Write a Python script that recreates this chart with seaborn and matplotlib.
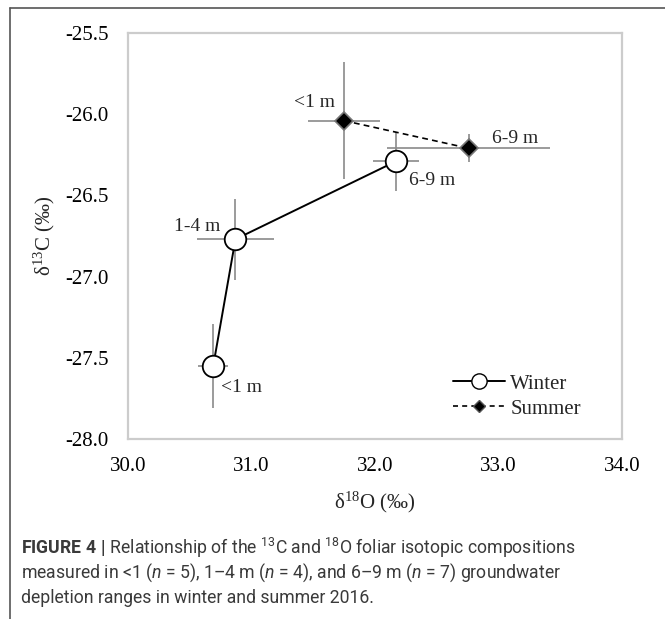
import numpy as np
import pandas as pd
import seaborn as sns
import matplotlib.pyplot as plt
from matplotlib.lines import Line2D

# values
winter_depth = ['<1 m', '1-4 m', '6-9 m']
winter_o18 = [30.69, 30.87, 32.17]
winter_c13 = [-27.55, -26.77, -26.29]
winter_o18_err = [0.12, 0.31, 0.19]
winter_c13_err = [0.26, 0.25, 0.18]

summer_depth = ['<1 m', '6-9 m']
summer_o18 = [31.75, 32.76]
summer_c13 = [-26.04, -26.21]
summer_o18_err = [0.29, 0.66]
summer_c13_err = [0.36, 0.085]

x_ticks = [30.0, 31.0, 32.0, 33.0, 34.0]
y_ticks = [-28.0, -27.5, -27.0, -26.5, -26.0, -25.5]

# label offsets (pixels) from each point
winter_offsets = [(28, -22), (-38, 13), (36, -19)]
summer_offsets = [(-30, 18), (46, 10)]

sns.set_style('white')
plt.rcParams['font.family'] = ['Liberation Serif', 'DejaVu Serif']
plt.rcParams['mathtext.fontset'] = 'custom'
plt.rcParams['mathtext.rm'] = 'Liberation Serif'
plt.rcParams['mathtext.sf'] = 'Roboto'
plt.rcParams['mathtext.bf'] = 'Roboto:bold'
plt.rcParams['mathtext.it'] = 'Roboto:italic'

winter = pd.DataFrame({'depth': winter_depth, 'o18': winter_o18, 'c13': winter_c13,
                       'xerr': winter_o18_err, 'yerr': winter_c13_err})
summer = pd.DataFrame({'depth': summer_depth, 'o18': summer_o18, 'c13': summer_c13,
                       'xerr': summer_o18_err, 'yerr': summer_c13_err})

fig = plt.figure(figsize=(6.65, 6.19), dpi=100)
ax = fig.add_axes([128 / 665, 1 - 439 / 619, 494 / 665, 406 / 619])

err_kw = dict(fmt='none', ecolor='#8a8a8a', elinewidth=1.2, capsize=0, zorder=1)
ax.errorbar(winter.o18, winter.c13, xerr=winter.xerr, yerr=winter.yerr, **err_kw)
ax.errorbar(summer.o18, summer.c13, xerr=summer.xerr, yerr=summer.yerr, **err_kw)

sns.lineplot(data=winter, x='o18', y='c13', sort=False, estimator=None, ax=ax,
             color='black', lw=1.4, marker='o', markersize=15.5,
             markerfacecolor='white', markeredgecolor='black', markeredgewidth=1.3,
             zorder=3)
sns.lineplot(data=summer, x='o18', y='c13', sort=False, estimator=None, ax=ax,
             color='black', lw=1.2, linestyle=(0, (3.5, 2.5)), marker='D', markersize=9.5,
             markerfacecolor='black', markeredgecolor='#777777', markeredgewidth=1.2,
             zorder=3)

for df, offs in [(winter, winter_offsets), (summer, summer_offsets)]:
    for (_, r), (dx, dy) in zip(df.iterrows(), offs):
        ax.annotate(r.depth, (r.o18, r.c13), xytext=(dx, dy), textcoords='offset pixels',
                    ha='center', va='center', fontsize=14)

ax.set_xlim(30, 34)
ax.set_ylim(-28, -25.5)
ax.set_xticks(x_ticks)
ax.set_yticks(y_ticks)
ax.set_xticklabels([f'{v:.1f}' for v in x_ticks])
ax.set_yticklabels([f'{v:.1f}' for v in y_ticks])
ax.tick_params(length=0, labelsize=15, colors='black')
ax.tick_params(axis='y', pad=14)
ax.tick_params(axis='x', pad=13)
for s in ax.spines.values():
    s.set_color('#cccccc')
    s.set_linewidth(1.6)

ax.set_xlabel('δ$^{18}$O (‰)', fontsize=15)
ax.set_ylabel('δ$^{13}$C (‰)', fontsize=15)
ax.xaxis.set_label_coords(0.5, -0.123)
ax.yaxis.set_label_coords(-0.144, 0.5)

handles = [
    Line2D([], [], color='black', lw=1.4, marker='o', markersize=11,
           markerfacecolor='white', markeredgecolor='black'),
    Line2D([], [], color='black', lw=1.2, linestyle=(0, (3, 2.5)), marker='D', markersize=6.5,
           markerfacecolor='black', markeredgecolor='#555555'),
]
ax.legend(handles, ['Winter', 'Summer'], loc='center left', bbox_to_anchor=(0.658, 0.105),
          frameon=False, fontsize=15, handlelength=2.5, handletextpad=0.25,
          labelspacing=0.25, borderpad=0, borderaxespad=0)

# figure frame (top and left edges visible)
fig.add_artist(Line2D([10 / 665, 10 / 665], [0, 1 - 8 / 619], color='#555555', lw=1.2))
fig.add_artist(Line2D([10 / 665, 1], [1 - 8 / 619, 1 - 8 / 619], color='#555555', lw=1.2))

cap_kw = dict(fontsize=12.7, family=['Roboto', 'DejaVu Sans'], color='#3a3a3a', va='center')
fig.text(21 / 665, 1 - 548 / 619,
         r'$\mathbf{FIGURE\ 4\ |}$ Relationship of the $^{\mathsf{13}}$C and '
         r'$^{\mathsf{18}}$O foliar isotopic compositions', **cap_kw)
fig.text(21 / 665, 1 - 573 / 619,
         r'measured in <1 ($\mathit{n}$ = 5), 1–4 m ($\mathit{n}$ = 4), and 6–9 m '
         r'($\mathit{n}$ = 7) groundwater', **cap_kw)
fig.text(21 / 665, 1 - 598 / 619, 'depletion ranges in winter and summer 2016.', **cap_kw)

fig.savefig('out.png', dpi=100)
